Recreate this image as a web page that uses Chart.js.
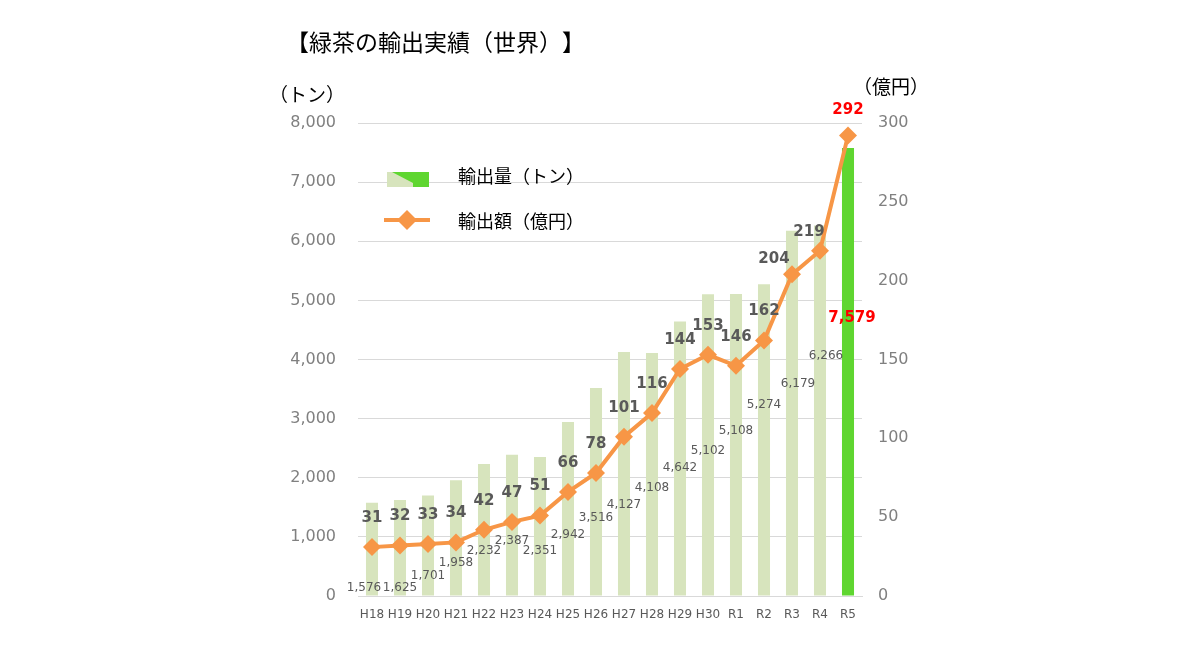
<!DOCTYPE html>
<html lang="ja">
<head>
<meta charset="utf-8">
<title>緑茶の輸出実績（世界）</title>
<script src="https://cdn.jsdelivr.net/npm/chart.js@4/dist/chart.umd.min.js"></script>
<style>
  html, body { margin: 0; padding: 0; background: #fff; }
  #wrap { width: 1200px; height: 650px; position: relative; }
</style>
</head>
<body>
<div id="wrap"><canvas id="TeaChart" width="1200" height="650"></canvas></div>
<script>
// data
const years = ["H18", "H19", "H20", "H21", "H22", "H23", "H24", "H25", "H26",
               "H27", "H28", "H29", "H30", "R1", "R2", "R3", "R4", "R5"];
const exportTons = [1576, 1625, 1701, 1958, 2232, 2387, 2351, 2942, 3516,
                    4127, 4108, 4642, 5102, 5108, 5274, 6179, 6266, 7579];
const exportOku = [31, 32, 33, 34, 42, 47, 51, 66, 78,
                   101, 116, 144, 153, 146, 162, 204, 219, 292];
const tonTicks = [0, 1000, 2000, 3000, 4000, 5000, 6000, 7000, 8000];
const okuTicks = [0, 50, 100, 150, 200, 250, 300];

// where excel put the ton labels (in tons on the left axis)
const tonLabelAt = [135, 135, 338, 558, 761, 930, 761, 1032, 1319,
                    1539, 1827, 2165, 2452, 2791, 3230, 3586, 4059, 4702];

const LIGHT = "#d7e4bd";
const GREEN = "#5fd630";
const ORANGE = "#f79646";
const last = years.length - 1;

const FONT_JP = '"Noto Sans CJK JP", "Noto Sans", sans-serif';
const FONT_NUM = '"DejaVu Sans", Verdana, sans-serif';

// draw japanese text with every wide char on a full em cell
// (chrome trims the brackets otherwise)
function drawWide(ctx, text, x, y, size) {
    ctx.font = size + "px " + FONT_JP;
    ctx.textAlign = "left";
    for (const ch of text) {
        const w = ctx.measureText(ch).width;
        const wide = ch.charCodeAt(0) > 0x2000;
        if (!wide) {
            ctx.fillText(ch, x, y);
            x += w;
            continue;
        }
        let shift = 0;
        if ("（【「".includes(ch) && w < size * 0.75) shift = size - w;
        ctx.fillText(ch, x + shift, y);
        x += size;
    }
}

// title, unit captions, legend and value labels
const decorations = {
    id: "decorations",
    afterDatasetsDraw(chart) {
        const ctx = chart.ctx;
        const yL = chart.scales.yTon;
        const barMeta = chart.getDatasetMeta(1);
        const lineMeta = chart.getDatasetMeta(0);
        ctx.save();

        // bar value labels
        ctx.textAlign = "center";
        ctx.textBaseline = "middle";
        barMeta.data.forEach((bar, i) => {
            const y = yL.getPixelForValue(tonLabelAt[i]);
            if (i === last) {
                ctx.font = "bold 15px " + FONT_NUM;
                ctx.fillStyle = "#ff0000";
                ctx.fillText(exportTons[i].toLocaleString("en-US"), bar.x + 4, y);
            } else {
                ctx.font = "12px " + FONT_NUM;
                ctx.fillStyle = "#595959";
                let dx = 0;
                if (i === 0) dx = -8;
                if (i >= 15) dx = 6;
                ctx.fillText(exportTons[i].toLocaleString("en-US"), bar.x + dx, y);
            }
        });

        // line value labels
        lineMeta.data.forEach((pt, i) => {
            let dx = 0, dy = -29;
            if (i === 15) { dx = -18; dy = -15; }
            if (i === 16) { dx = -11; dy = -19; }
            if (i === last) { dy = -26; }
            ctx.font = "bold 15px " + FONT_NUM;
            ctx.fillStyle = i === last ? "#ff0000" : "#595959";
            ctx.fillText(String(exportOku[i]), pt.x + dx, pt.y + dy);
        });

        // legend
        const lx = 387, ly = 172, lw = 42, lh = 15;
        ctx.fillStyle = LIGHT;
        ctx.fillRect(lx, ly, lw, lh);
        ctx.fillStyle = GREEN;
        ctx.beginPath();
        ctx.moveTo(lx + 5, ly);
        ctx.lineTo(lx + lw, ly);
        ctx.lineTo(lx + lw, ly + lh);
        ctx.lineTo(lx + 26, ly + lh);
        ctx.lineTo(lx + 26, ly + lh - 4);
        ctx.closePath();
        ctx.fill();

        ctx.strokeStyle = ORANGE;
        ctx.lineWidth = 4;
        ctx.beginPath();
        ctx.moveTo(384, 220);
        ctx.lineTo(430, 220);
        ctx.stroke();
        ctx.fillStyle = ORANGE;
        ctx.beginPath();
        ctx.moveTo(407, 210);
        ctx.lineTo(417, 220);
        ctx.lineTo(407, 230);
        ctx.lineTo(397, 220);
        ctx.closePath();
        ctx.fill();

        ctx.fillStyle = "#000";
        drawWide(ctx, chart.data.datasets[1].label, 458, 176, 18);
        drawWide(ctx, chart.data.datasets[0].label, 458, 221, 18);

        // title and axis units
        drawWide(ctx, "【緑茶の輸出実績（世界）】", 286, 42, 23);
        drawWide(ctx, "（トン）", 269, 95, 19);
        drawWide(ctx, "（億円）", 853, 87, 19);
        ctx.restore();
    }
};

const ctx = document.getElementById("TeaChart").getContext("2d");

new Chart(ctx, {
    type: "bar",
    data: {
        labels: years,
        datasets: [
            {
                type: "line",
                label: "輸出額（億円）",
                data: exportOku,
                yAxisID: "yOku",
                borderColor: ORANGE,
                backgroundColor: ORANGE,
                borderWidth: 4,
                pointStyle: "rectRot",
                pointRadius: 9,
                pointBorderWidth: 0,
                tension: 0
            },
            {
                type: "bar",
                label: "輸出量（トン）",
                data: exportTons,
                yAxisID: "yTon",
                backgroundColor: c => c.dataIndex === last ? GREEN : LIGHT,
                barPercentage: 0.43,
                categoryPercentage: 1
            }
        ]
    },
    options: {
        responsive: false,
        animation: false,
        layout: { padding: { top: 123, left: 0, right: 0, bottom: 0 } },
        plugins: { legend: { display: false }, tooltip: { enabled: false } },
        scales: {
            x: {
                grid: { display: false, drawTicks: false },
                border: { color: "#d9d9d9", width: 1 },
                ticks: { color: "#595959", font: { family: FONT_NUM, size: 12 }, padding: 12, maxRotation: 0, autoSkip: false },
                afterFit: s => { s.height = 54; }
            },
            yTon: {
                position: "left",
                min: 0, max: 8000,
                afterBuildTicks: s => { s.ticks = tonTicks.map(v => ({ value: v })); },
                grid: { color: "#d9d9d9", drawTicks: false },
                border: { display: false },
                ticks: {
                    color: "#808080",
                    font: { family: FONT_NUM, size: 16 },
                    padding: 22,
                    callback: v => v.toLocaleString("en-US")
                },
                afterFit: s => { s.width = 358; }
            },
            yOku: {
                position: "right",
                min: 0, max: 300,
                afterBuildTicks: s => { s.ticks = okuTicks.map(v => ({ value: v })); },
                grid: { display: false, drawTicks: false },
                border: { display: false },
                ticks: { color: "#808080", font: { family: FONT_NUM, size: 16 }, padding: 16 },
                afterFit: s => { s.width = 338; }
            }
        }
    },
    plugins: [decorations]
});
</script>
</body>
</html>
